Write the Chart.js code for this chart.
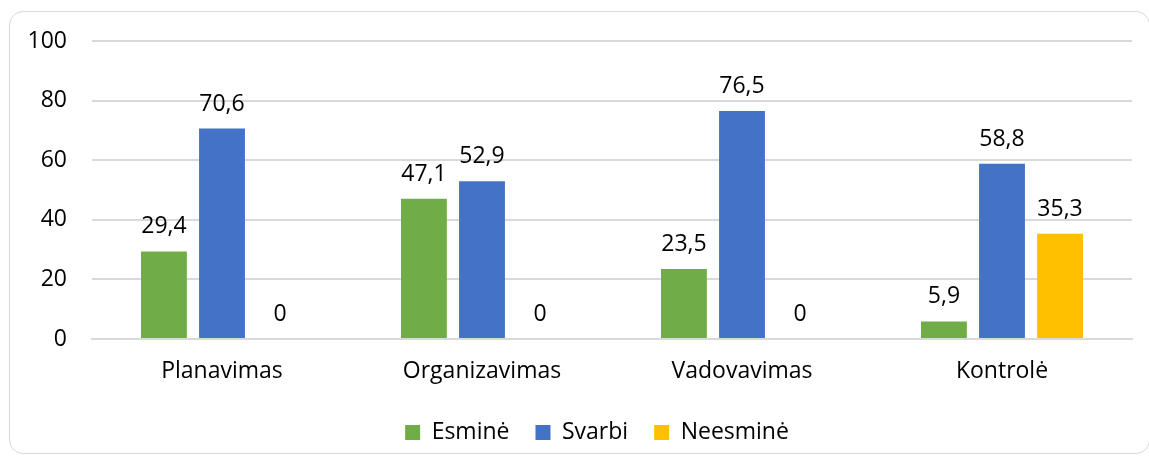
<!DOCTYPE html>
<html lang="lt">
<head>
<meta charset="UTF-8">
<title>Vadybos funkcijos</title>
<script src="https://cdn.jsdelivr.net/npm/chart.js"></script>
<style>
  html, body { margin: 0; padding: 0; background: #fff; }
  #wrap { position: relative; width: 1149px; height: 459px; overflow: hidden; }
  #frame { position: absolute; left: 9px; top: 11px; width: 1141px; height: 443px;
           border: 1px solid #d9d9d9; border-radius: 14px; box-sizing: border-box; }
  canvas { position: absolute; left: 0; top: 0; }
</style>
</head>
<body>
<div id="wrap">
  <div id="frame"></div>
  <canvas id="chart" width="1149" height="459"></canvas>
</div>
<script>
const categories = ['Planavimas', 'Organizavimas', 'Vadovavimas', 'Kontrolė'];
const esmine = [29.4, 47.1, 23.5, 5.9];
const svarbi = [70.6, 52.9, 76.5, 58.8];
const neesmine = [0, 0, 0, 35.3];
const yTicks = [0, 20, 40, 60, 80, 100];

const FONT = "'Open Sans', sans-serif";
const SIZE = 23;

const valueLabels = {
  id: 'valueLabels',
  afterDatasetsDraw(chart) {
    const ctx = chart.ctx;
    ctx.save();
    ctx.font = SIZE + 'px ' + FONT;
    ctx.fillStyle = '#000';
    ctx.textAlign = 'center';
    ctx.textBaseline = 'alphabetic';
    chart.data.datasets.forEach((ds, i) => {
      chart.getDatasetMeta(i).data.forEach((el, j) => {
        const txt = String(ds.data[j]).replace('.', ',');
        ctx.fillText(txt, el.x, el.y - 18);
      });
    });
    ctx.restore();
  }
};

// legend in the original sits a bit right of centre
const legendShift = {
  id: 'legendShift',
  afterLayout(chart) {
    chart.legend.left += 31;
    chart.legend.right += 31;
  }
};

new Chart(document.getElementById('chart'), {
  type: 'bar',
  data: {
    labels: categories,
    datasets: [
      { label: 'Esminė', data: esmine, backgroundColor: '#70AD47' },
      { label: 'Svarbi', data: svarbi, backgroundColor: '#4472C4' },
      { label: 'Neesminė', data: neesmine, backgroundColor: '#FFC000' }
    ]
  },
  options: {
    responsive: false,
    animation: false,
    layout: { padding: { left: 0, right: 17, top: 41, bottom: 5 } },
    datasets: { bar: { categoryPercentage: 0.67, barPercentage: 0.79 } },
    scales: {
      x: {
        grid: { display: false },
        border: { color: '#d9d9d9', width: 2 },
        ticks: { color: '#000', font: { family: FONT, size: SIZE }, padding: 11 },
        afterFit: s => { s.height = 56; }
      },
      y: {
        min: 0, max: 100,
        afterBuildTicks: s => { s.ticks = yTicks.map(v => ({ value: v })); },
        grid: { color: '#d9d9d9', lineWidth: 2, drawTicks: false },
        border: { display: false },
        ticks: { color: '#000', font: { family: FONT, size: SIZE }, padding: 25 },
        afterFit: s => { s.width = 92; }
      }
    },
    plugins: {
      legend: {
        position: 'bottom',
        labels: {
          color: '#000',
          font: { family: FONT, size: SIZE },
          boxWidth: 15, boxHeight: 15, padding: 26
        }
      },
      tooltip: { enabled: false }
    }
  },
  plugins: [valueLabels, legendShift]
});
</script>
</body>
</html>
